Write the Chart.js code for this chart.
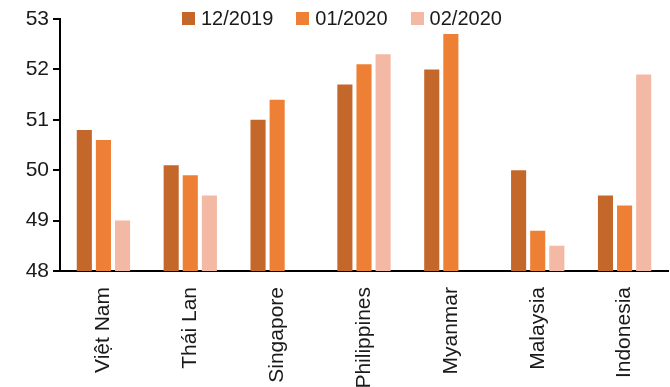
<!DOCTYPE html>
<html>
<head>
<meta charset="utf-8">
<script src="https://cdn.jsdelivr.net/npm/chart.js@4"></script>
<style>
  body { margin: 0; background: #fff; }
  #wrap { position: relative; width: 670px; height: 387px; }
  #legend { position: absolute; top: 7px; left: 182px; display: flex; font: 20px "Liberation Sans", Arial, sans-serif; color: #1a1a1a; }
  #legend span.item { display: flex; align-items: center; margin-right: 23px; }
  #legend i { display: inline-block; width: 13px; height: 13px; margin-right: 6px; }
</style>
</head>
<body>
<div id="wrap">
  <canvas id="c" width="670" height="387"></canvas>
  <div id="legend"></div>
</div>
<script>
const countries = ['Việt Nam', 'Thái Lan', 'Singapore', 'Philippines', 'Myanmar', 'Malaysia', 'Indonesia'];
const seriesNames = ['12/2019', '01/2020', '02/2020'];
const dec2019 = [50.8, 50.1, 51.0, 51.7, 52.0, 50.0, 49.5];
const jan2020 = [50.6, 49.9, 51.4, 52.1, 52.7, 48.8, 49.3];
const feb2020 = [49.0, 49.5, null, 52.3, null, 48.5, 51.9];
const yTicks = [48, 49, 50, 51, 52, 53];

const colors = ['#C4672A', '#ED8035', '#F4B9A4'];
const font = { family: '"Liberation Sans", Arial, sans-serif', size: 21 };

(function(){
  const values = [dec2019, jan2020, feb2020];
  const datasets = seriesNames.map((name, i) => ({
    label: name,
    data: values[i],
    backgroundColor: colors[i],
    borderWidth: 0,
    categoryPercentage: 0.66,
    barPercentage: 0.79
  }));

  // html legend sitting over the top of the plot
  const lg = document.getElementById('legend');
  seriesNames.forEach((name, i) => {
    const s = document.createElement('span');
    s.className = 'item';
    s.innerHTML = '<i style="background:' + colors[i] + '"></i>' + name;
    lg.appendChild(s);
  });

  new Chart(document.getElementById('c'), {
    type: 'bar',
    data: { labels: countries, datasets },
    options: {
      responsive: false,
      animation: false,
      devicePixelRatio: 1,
      layout: { padding: { top: 19, right: 2, bottom: 0, left: 0 } },
      plugins: { legend: { display: false }, tooltip: { enabled: false } },
      scales: {
        x: {
          grid: { display: false },
          border: { color: '#000', width: 2 },
          ticks: { color: '#1a1a1a', font, minRotation: 90, maxRotation: 90, autoSkip: false, padding: 8 },
          afterFit: s => { s.height = 116; }
        },
        y: {
          min: 48, max: 53,
          afterBuildTicks: s => { s.ticks = yTicks.map(v => ({ value: v })); },
          grid: { drawOnChartArea: false, drawTicks: true, tickLength: 7, color: '#000', lineWidth: 2 },
          border: { color: '#000', width: 2 },
          ticks: { color: '#1a1a1a', font, padding: 4 },
          afterFit: s => { s.width = 60; }
        }
      }
    }
  });
})();
</script>
</body>
</html>
